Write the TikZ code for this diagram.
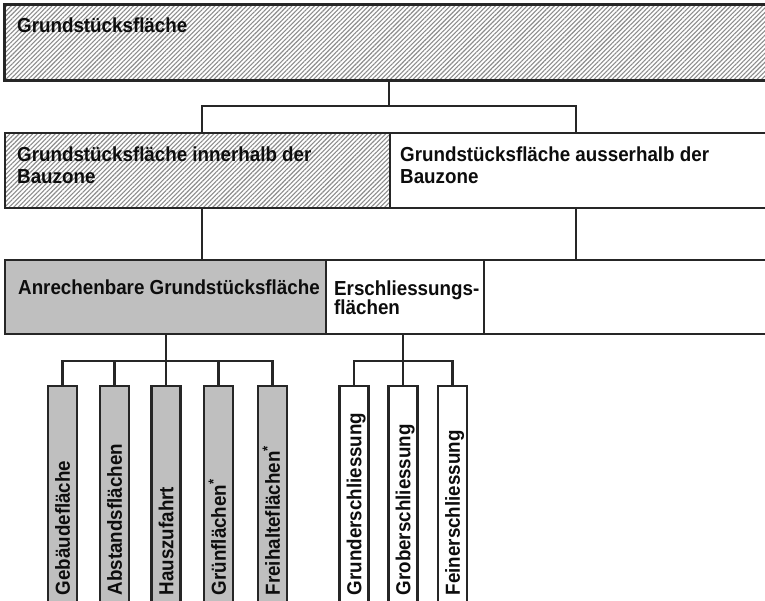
\documentclass[tikz,border=0pt]{standalone}
\usepackage{fontspec}
\setmainfont{Liberation Sans}[FakeStretch=0.925]
\usetikzlibrary{patterns.meta}
\tikzset{
  boxstyle/.style={draw=black!85, line width=2.3pt, inner sep=0pt, anchor=north west},
  hatched/.style={pattern={Lines[angle=45,distance=3.2pt,line width=1.1pt]}, pattern color=black!45},
  grayed/.style={fill=black!25},
  whited/.style={fill=white},
  vbox/.style={draw=black!85, line width=2.3pt, inner sep=0pt, anchor=north, minimum width=29pt, minimum height=225pt},
  lbl/.style={font=\bfseries\fontsize{20.3}{21.6}\selectfont, text=black!95, inner sep=0pt, anchor=base west, align=left},
  lblb/.style={font=\bfseries\fontsize{20.3}{19.5}\selectfont, text=black!95, inner sep=0pt, anchor=base west, align=left},
  vlbl/.style={font=\bfseries\fontsize{20.3}{22}\selectfont, text=black!95, inner sep=0pt, anchor=base west, rotate=90},
  conn/.style={draw=black!85, line width=2.3pt},
}
\begin{document}
\begin{tikzpicture}[x=1pt,y=-1pt]
\useasboundingbox (0,0) rectangle (765,601);
\clip (0,0) rectangle (765,601);
\fill[white] (0,0) rectangle (765,601);
% row 1
\node[boxstyle, hatched, minimum width=780pt, minimum height=76pt] (top) at (4,4) {};
\node[lbl] (ttop) at (17,33) {Grundstücksfläche};
% row 2
\node[boxstyle, hatched, minimum width=385pt, minimum height=75pt] (inn) at (4,132) {};
\node[boxstyle, whited, minimum width=395pt, minimum height=75pt] (aus) at (389,132) {};
\node[lbl] (tinn) at (17,183.3) {Grundstücksfläche innerhalb der\\Bauzone};
\node[lbl] (taus) at (400,183.3) {Grundstücksfläche ausserhalb der\\Bauzone};
% row 3
\node[boxstyle, grayed, minimum width=321pt, minimum height=74pt] (anr) at (4,259) {};
\node[boxstyle, whited, minimum width=158pt, minimum height=74pt] (ers) at (325,259) {};
\node[boxstyle, whited, minimum width=300pt, minimum height=74pt] (rest) at (483,259) {};
\node[lblb] (tanr) at (18,295) {Anrechenbare Grundstücksfläche};
\node[lblb] (ters) at (334,315) {Erschliessungs-\\flächen};
% row 4 boxes
\foreach \n/\x/\f/\t in {g1/62.5/grayed/Gebäudefläche, g2/114.5/grayed/Abstandsflächen, g3/166/grayed/Hauszufahrt, g4/218.5/grayed/Grünflächen\textsuperscript{*}, g5/272.5/grayed/Freihalteflächen\textsuperscript{*}, e1/354/whited/Grunderschliessung, e2/403/whited/Groberschliessung, e3/452.5/whited/Feinerschliessung}{
  \node[vbox, \f] (\n) at (\x,385) {};
  \node[vlbl] (t\n) at (\x+7.3,595.5) {\t};
}
% connectors
\coordinate (j1) at (389,106);
\coordinate (jl) at (202,106);
\coordinate (jr) at (576,106);
\draw[conn] (top.south -| j1) -- (j1);
\draw[conn] (inn.north -| jl) |- (jr) -- (aus.north -| jr);
\draw[conn] (inn.south -| jl) -- (anr.north -| jl);
\draw[conn] (aus.south -| jr) -- (rest.north -| jr);
\coordinate (b1) at (166,361);
\coordinate (b2) at (403,361);
\draw[conn] (anr.south -| b1) -- (b1);
\draw[conn] (g1.north) |- (b1) -| (g5.north);
\foreach \n in {g2,g3,g4}{\draw[conn] (\n.north) -- (\n.north |- b1);}
\draw[conn] (ers.south -| b2) -- (b2);
\draw[conn] (e1.north) |- (b2) -| (e3.north);
\draw[conn] (e2.north) -- (e2.north |- b2);
\end{tikzpicture}
\end{document}
